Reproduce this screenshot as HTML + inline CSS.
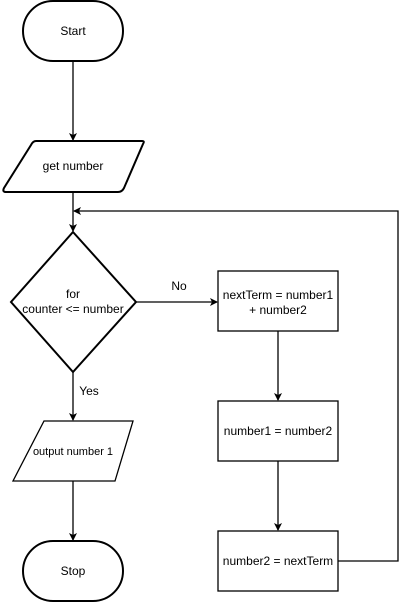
<!DOCTYPE html>
<html><head><style>body{margin:0;background:#fff}svg{display:block}text{font-family:"Liberation Sans",Arial,sans-serif;font-size:12px;fill:#000}</style></head><body>
<svg width="407" height="602" viewBox="0 0 407 602" xmlns="http://www.w3.org/2000/svg">
<defs><marker id="a" markerWidth="8" markerHeight="8" refX="7" refY="4" orient="auto" markerUnits="userSpaceOnUse"><path d="M0,0 L8,4 L0,8 L2,4 z" fill="#000"/></marker></defs>
<g fill="none" stroke="#000" stroke-width="1.3">
<rect x="23" y="1" width="100" height="60" rx="30" ry="30" stroke-width="2"/>
<path d="M36,141 L142,141 Q145,141 143,144 L124,188 Q122,192 118,192 L6,192 Q2,192 4,188 L31,145 Q33,141 36,141 z" stroke-width="2"/>
<path d="M73,232 L136,302 L73,372 L11,302 z" stroke-width="2"/>
<rect x="218" y="271" width="120" height="60"/>
<rect x="218" y="401" width="120" height="60"/>
<rect x="218" y="531" width="120" height="60"/>
<path d="M44,421 L133,421 L115,481 L13,481 z"/>
<rect x="23" y="541" width="100" height="60" rx="30" ry="30" stroke-width="2"/>
<path d="M73,61 L73,140" marker-end="url(#a)"/>
<path d="M73,192 L73,231" marker-end="url(#a)"/>
<path d="M338,561 L398,561 L398,211 L74,211" marker-end="url(#a)"/>
<path d="M136,302 L217,302" marker-end="url(#a)"/>
<path d="M278,331 L278,400" marker-end="url(#a)"/>
<path d="M278,461 L278,530" marker-end="url(#a)"/>
<path d="M73,372 L73,420" marker-end="url(#a)"/>
<path d="M73,481 L73,540" marker-end="url(#a)"/>
</g>
<g text-anchor="middle">
<text x="73" y="35">Start</text>
<text x="73" y="170">get number</text>
<text x="73" y="298">for</text>
<text x="73" y="313">counter &lt;= number</text>
<text x="278" y="299">nextTerm = number1</text>
<text x="278" y="314">+ number2</text>
<text x="278" y="435">number1 = number2</text>
<text x="278" y="565">number2 = nextTerm</text>
<text x="73" y="455" style="font-size:11px">output number 1</text>
<text x="73" y="575">Stop</text>
<text x="179" y="290">No</text>
<text x="89" y="395">Yes</text>
</g>
</svg>
</body></html>
